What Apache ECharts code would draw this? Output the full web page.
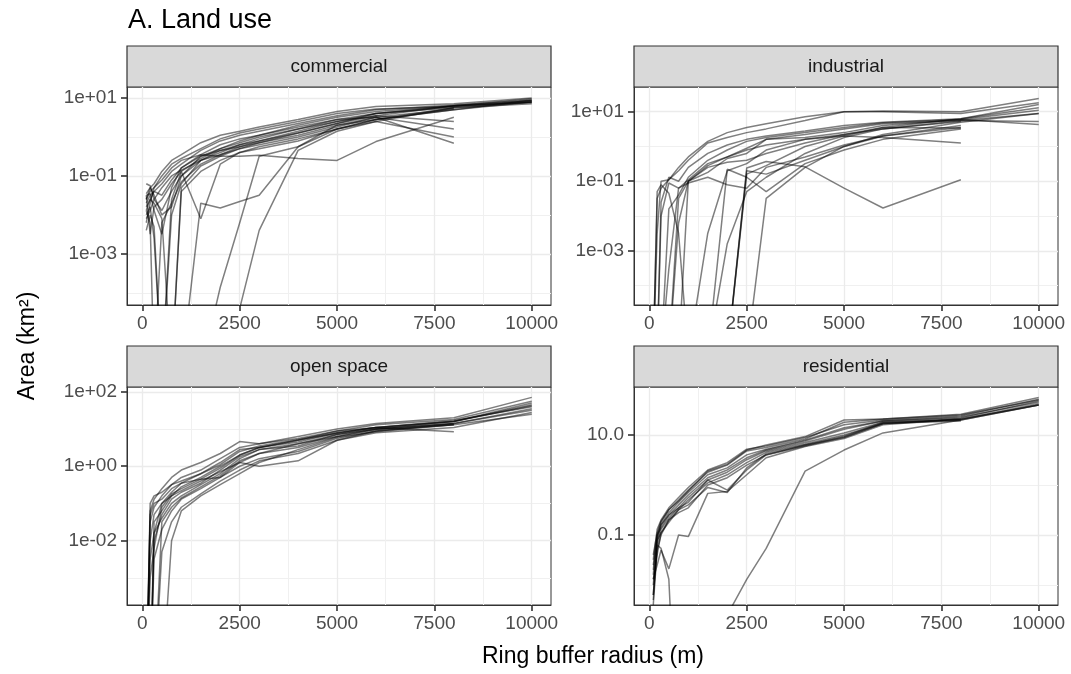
<!doctype html>
<html>
<head>
<meta charset="UTF-8">
<title>A. Land use</title>
<script src="https://cdn.jsdelivr.net/npm/echarts@6/dist/echarts.min.js"></script>
<style>
	html, body { margin: 0; padding: 0; background: #ffffff; }
	#chart { width: 1071px; height: 674px; }
</style>
</head>
<body>
<div id="chart"></div>
<script type="text/javascript">
// ring buffer radii (m)
var radii = [100, 200, 300, 500, 750, 1000, 1500, 2000, 2500, 3000, 4000, 5000, 6000, 8000, 10000];
var xBreaks = [0, 2500, 5000, 7500, 10000];
var xMinorBreaks = [1250, 3750, 6250, 8750];

var panelNames = ['commercial', 'industrial', 'open space', 'residential'];

// y breaks (km2) and their labels
var commercialBreaks = [10, 0.1, 0.001];
var commercialLabels = ['1e+01', '1e-01', '1e-03'];
var commercialMinor = [1, 0.01, 0.0001];
var industrialBreaks = [10, 0.1, 0.001];
var industrialLabels = ['1e+01', '1e-01', '1e-03'];
var industrialMinor = [1, 0.01, 0.0001];
var openBreaks = [100, 1, 0.01];
var openLabels = ['1e+02', '1e+00', '1e-02'];
var openMinor = [10, 0.1, 0.001];
var residentialBreaks = [10, 0.1];
var residentialLabels = ['10.0', '0.1'];
var residentialMinor = [1, 0.01];

// area (km2) per city, one row per line, one value per radius (null = no ring)
var commercial = [
	[0.025, 0.05, 0.063, 0.13, 0.25, 0.35, 0.71, 1.1, 1.4, 1.8, 2.8, 4.5, 6.0, 7.1, 10],
	[0.013, 0.025, 0.04, 0.063, 0.13, 0.2, 0.45, 0.79, 1.1, 1.4, 2.2, 3.5, 5.0, 6.6, 8.9],
	[0.032, 0.035, 0.013, 0.0032, 0.05, 0.16, 0.35, 0.63, 0.89, 1.1, 2.0, 3.2, 4.5, 6.3, 8.3],
	[0.0063, 0.02, 0.05, 0.1, 0.2, 0.28, 0.5, 0.89, 1.26, 1.6, 2.5, 4.0, 5.2, 6.0, 7.9],
	[0.004, 0.01, 0.005, 1e-6, 0.01, 0.063, 0.25, 0.45, 0.63, 0.89, 1.6, 2.8, 4.0, 5.6, null],
	[0.016, 0.025, 0.02, 0.008, 1e-6, 0.05, 0.18, 0.32, 0.5, 0.71, 1.26, 2.2, 3.5, 2.5, null],
	[0.035, 0.05, 0.032, 0.01, 0.016, 0.1, 0.32, 0.5, 0.79, 1.1, 1.8, 2.8, 3.2, 1.6, null],
	[0.01, 0.016, 0.0025, 1e-6, 1e-6, 0.04, 0.13, 0.25, 0.4, 0.5, 0.79, 1.6, 2.5, 1.0, null],
	[0.02, 0.032, 0.04, 0.032, 0.079, 0.16, 0.32, 0.45, 0.56, 0.71, 1.1, 2.0, 3.2, 0.69, null],
	[1e-6, 1e-6, 1e-6, 1e-6, 1e-6, 1e-6, 0.02, 0.015, 0.022, 0.032, 0.56, 2.0, 2.8, 5.0, 7.9],
	[1e-6, 1e-6, 1e-6, 1e-6, 1e-6, 1e-6, 1e-6, 0.00014, 0.0063, 0.32, 0.56, 1.6, 2.8, 5.0, 8.9],
	[1e-6, 1e-6, 1e-6, 1e-6, 1e-6, 1e-6, 1e-6, 1e-6, 4e-5, 0.004, 0.45, 1.4, 2.5, 5.6, 7.1],
	[0.025, 0.04, 0.05, 0.079, 0.16, 0.25, 0.35, 0.32, 0.32, 0.34, 0.28, 0.25, 0.76, 3.2, null],
	[0.063, 0.056, 0.025, 0.013, 0.04, 0.1, 0.25, 0.4, 0.63, 0.79, 1.4, 2.5, 4.0, 6.3, 9.5],
	[0.013, 0.0063, 1e-6, 0.0063, 0.02, 0.071, 0.2, 0.35, 0.56, 0.79, 1.26, 2.2, 4.0, 6.0, 8.5],
	[0.032, 0.0032, 0.016, 0.025, 0.063, 0.13, 0.28, 0.5, 0.71, 1.0, 1.6, 2.5, 3.5, 6.3, 7.6],
	[0.008, 0.013, 0.025, 0.05, 0.1, 0.14, 0.25, 0.35, 0.5, 0.63, 1.0, 1.8, 3.2, 5.2, null],
	[1e-6, 1e-6, 1e-6, 1e-6, 0.025, 0.13, 0.008, 0.2, 0.4, 0.56, 0.89, 1.6, 2.8, 5.6, 7.9]
];

var industrial = [
	[1e-6, 0.0032, 0.1, 0.11, 0.25, 0.5, 1.4, 2.5, 3.5, 4.5, 7.1, 10, 10.5, 10, 24],
	[1e-6, 0.032, 0.063, 0.11, 0.2, 0.4, 1.26, 1.8, 2.5, 3.2, 5.6, 10, 10, 8.9, 18],
	[1e-6, 1e-6, 0.025, 0.13, 0.1, 0.25, 0.63, 1.1, 1.6, 2.0, 2.8, 4.0, 5.0, 6.3, 16],
	[1e-6, 1e-6, 1e-6, 0.016, 0.04, 0.13, 0.4, 0.79, 1.4, 1.8, 2.5, 3.5, 4.8, 6.0, 11],
	[1e-6, 1e-6, 1e-6, 1e-6, 0.032, 0.1, 0.28, 0.5, 0.89, 1.6, 2.2, 3.2, 4.5, 5.6, 5.2],
	[1e-6, 1e-6, 1e-6, 1e-6, 1e-6, 0.1, 0.18, 0.45, 0.63, 1.6, 1.8, 2.5, 4.0, 6.0, 4.3],
	[1e-6, 1e-6, 1e-6, 0.0003, 0.063, 0.089, 0.13, 0.079, 0.063, 0.25, 0.5, 1.1, 2.0, 3.5, null],
	[1e-6, 1e-6, 1e-6, 1e-6, 1e-6, 1e-6, 1e-6, 0.22, 0.13, 0.05, 0.32, 0.79, 1.6, 3.2, null],
	[1e-6, 1e-6, 1e-6, 1e-6, 1e-6, 1e-6, 1e-6, 1e-6, 0.24, 0.37, 0.26, 0.063, 0.017, 0.11, null],
	[1e-6, 1e-6, 1e-6, 1e-6, 1e-6, 1e-6, 0.0032, 0.2, 0.32, 0.79, 1.6, 2.2, 3.2, 5.2, null],
	[1e-6, 1e-6, 1e-6, 1e-6, 1e-6, 1e-6, 1e-6, 1e-6, 0.16, 0.28, 1.0, 2.0, 3.5, 6.3, 13],
	[1e-6, 1e-6, 1e-6, 1e-6, 1e-6, 1e-6, 1e-6, 0.0016, 0.05, 0.13, 0.63, 1.8, 3.2, 5.6, 8.9],
	[1e-6, 1e-6, 0.01, 0.089, 0.063, 0.11, 0.32, 0.5, 0.79, 1.1, 1.6, 2.0, 1.8, 1.26, null],
	[1e-6, 1e-6, 1e-6, 1e-6, 0.0063, 0.1, 0.25, 0.35, 0.4, 0.63, 1.26, 2.2, 3.5, 3.4, null],
	[1e-6, 0.05, 0.079, 0.045, 0.0032, 1e-6, 1e-6, 1e-6, 1e-6, 0.032, 0.25, 1.0, 2.0, 4.0, null],
	[1e-6, 1e-6, 1e-6, 1e-6, 1e-6, 1e-6, 1e-6, 1e-6, 0.2, 0.16, 0.4, 1.0, 2.2, 5.0, 8.9]
];

var openSpace = [
	[1e-6, 0.063, 0.13, 0.25, 0.5, 0.79, 1.26, 2.2, 4.6, 4.0, 6.3, 10, 14, 20, 71],
	[1e-6, 0.032, 0.079, 0.16, 0.32, 0.5, 0.79, 1.6, 3.2, 4.0, 5.6, 8.9, 13, 18, 56],
	[1e-6, 0.01, 0.05, 0.1, 0.2, 0.35, 0.63, 1.1, 2.5, 3.5, 5.2, 7.9, 11, 16, 50],
	[1e-6, 1e-6, 0.032, 0.063, 0.16, 0.28, 0.5, 1.0, 2.0, 3.2, 4.5, 7.9, 11, 16, 42],
	[1e-6, 1e-6, 0.01, 0.05, 0.13, 0.2, 0.35, 0.79, 1.8, 2.8, 3.5, 7.1, 10, 14, 35],
	[1e-6, 1e-6, 1e-6, 0.032, 0.079, 0.14, 0.28, 0.56, 1.4, 2.2, 3.2, 6.3, 9.5, 13, null],
	[1e-6, 0.0032, 0.016, 0.1, 0.16, 0.22, 0.4, 0.71, 1.26, 1.0, 1.4, 5.0, 8.9, 14, 32],
	[1e-6, 1e-6, 0.0032, 0.02, 0.063, 0.13, 0.25, 0.5, 1.0, 1.6, 2.5, 5.6, 8.9, 13, null],
	[1e-6, 1e-6, 1e-6, 0.005, 0.032, 0.079, 0.18, 0.4, 0.79, 1.4, 2.2, 5.0, 7.9, 11, 28],
	[1e-6, 0.05, 0.1, 0.13, 0.25, 0.35, 0.45, 0.5, 1.26, 2.2, 4.0, 6.3, 10, 14, null],
	[1e-6, 1e-6, 1e-6, 1e-6, 0.01, 0.063, 0.16, 0.32, 0.63, 1.26, 2.8, 6.0, 8.5, 13, 25],
	[1e-6, 0.1, 0.16, 0.2, 0.32, 0.4, 0.63, 1.26, 2.8, 3.2, 5.0, 8.9, 11, 8.5, null],
	[1e-6, 1e-6, 0.016, 0.04, 0.1, 0.16, 0.32, 0.63, 1.6, 2.8, 4.0, 7.1, 10, 16, 45],
	[1e-6, 0.001, 0.0063, 0.079, 0.18, 0.25, 0.45, 0.89, 2.0, 3.2, 5.0, 7.6, 11, 17, 40]
];

var residential = [
	[0.032, 0.13, 0.2, 0.35, 0.56, 0.89, 2.0, 2.8, 5.2, 6.0, 8.9, 16, 20, 24, 52],
	[0.025, 0.1, 0.18, 0.32, 0.5, 0.79, 1.8, 2.5, 4.8, 5.6, 8.3, 18, 21, 25, 50],
	[0.01, 0.079, 0.16, 0.28, 0.45, 0.71, 1.6, 2.2, 4.0, 5.2, 7.9, 14, 19, 22, 48],
	[0.016, 0.1, 0.14, 0.25, 0.4, 0.63, 1.4, 2.0, 3.5, 5.0, 7.6, 13, 19, 23, 45],
	[0.005, 0.063, 0.13, 0.22, 0.35, 0.56, 1.26, 1.8, 3.2, 4.8, 7.1, 11, 18, 21, 42],
	[0.0063, 0.079, 0.11, 0.2, 0.32, 0.5, 1.1, 1.6, 2.8, 4.5, 6.6, 10, 17, 20, 40],
	[0.02, 0.089, 0.16, 0.25, 0.35, 0.45, 1.26, 0.79, 2.0, 4.0, 6.3, 8.9, 17, 21, null],
	[0.013, 0.04, 0.11, 0.18, 0.32, 0.4, 0.89, 0.71, 2.2, 4.2, 6.3, 9.5, 18, 20, null],
	[0.013, 0.025, 0.05, 0.021, 0.1, 0.093, 0.68, 0.74, 1.6, 3.5, 5.9, 8.5, 16, 21, 40],
	[0.0063, 0.063, 0.054, 0.013, 1e-6, 1e-6, 1e-6, 0.0025, 0.013, 0.054, 1.9, 5.0, 11, 20, 40],
	[0.04, 0.11, 0.19, 0.32, 0.48, 0.76, 1.9, 2.6, 5.0, 6.3, 9.3, 20, 21, 26, 56],
	[0.004, 0.05, 0.1, 0.2, 0.28, 0.35, 1.0, 1.4, 2.5, 4.0, 6.0, 9.1, 17, 19, null]
];

var FONT = '"Liberation Sans", Arial, sans-serif';

// panel layout: log10 range of the y axis and position of each facet
var panels = [
	{ lines: commercial, breaks: commercialBreaks, labels: commercialLabels, minor: commercialMinor, ymin: -4.31, ymax: 1.28, left: 127, top: 87 },
	{ lines: industrial, breaks: industrialBreaks, labels: industrialLabels, minor: industrialMinor, ymin: -4.56, ymax: 1.71, left: 634, top: 87 },
	{ lines: openSpace, breaks: openBreaks, labels: openLabels, minor: openMinor, ymin: -3.73, ymax: 2.13, left: 127, top: 387 },
	{ lines: residential, breaks: residentialBreaks, labels: residentialLabels, minor: residentialMinor, ymin: -2.40, ymax: 1.96, left: 634, top: 387 }
];
var PW = 424, PH = 218, STRIP = 41;

function log10List(arr) {
	return arr.map(function(v) { return Math.log10(v); });
}

var grids = [], xAxes = [], yAxes = [], series = [], graphics = [];

panels.forEach(function(p, i) {
	grids.push({
		left: p.left, top: p.top, width: PW, height: PH,
		show: true, backgroundColor: '#ffffff', borderColor: '#333333', borderWidth: 1
	});

	// major x axis
	xAxes.push({
		type: 'value', gridIndex: i, min: -395, max: 10495, position: 'bottom',
		axisLine: { show: true, onZero: false, lineStyle: { color: '#333333', width: 1 } },
		axisTick: { show: true, inside: false, length: 6, customValues: xBreaks, lineStyle: { color: '#333333', width: 1.6 } },
		axisLabel: { customValues: xBreaks, fontSize: 19, color: '#4D4D4D', margin: 9, fontFamily: FONT,
			formatter: function(v) { return String(Math.round(v)); } },
		splitLine: { show: true, lineStyle: { color: '#EBEBEB', width: 1.3 } }
	});
	// minor x grid
	xAxes.push({
		type: 'value', gridIndex: i, min: -395, max: 10495, position: 'top',
		axisLine: { show: false, onZero: false },
		axisTick: { show: false, customValues: xMinorBreaks },
		axisLabel: { show: false },
		splitLine: { show: true, lineStyle: { color: '#F0F0F0', width: 1 } }
	});

	var logBreaks = log10List(p.breaks);
	var labels = p.labels;
	yAxes.push({
		type: 'value', gridIndex: i, min: p.ymin, max: p.ymax, position: 'left',
		axisLine: { show: true, onZero: false, lineStyle: { color: '#333333', width: 1 } },
		axisTick: { show: true, inside: false, length: 6, customValues: logBreaks, lineStyle: { color: '#333333', width: 1.6 } },
		axisLabel: { customValues: logBreaks, fontSize: 19, color: '#4D4D4D', margin: 10, fontFamily: FONT,
			formatter: function(v) {
				for (var k = 0; k < logBreaks.length; k++) {
					if (Math.abs(v - logBreaks[k]) < 1e-6) return labels[k];
				}
				return '';
			} },
		splitLine: { show: true, lineStyle: { color: '#EBEBEB', width: 1.3 } }
	});
	yAxes.push({
		type: 'value', gridIndex: i, min: p.ymin, max: p.ymax, position: 'right',
		axisLine: { show: false, onZero: false },
		axisTick: { show: false, customValues: log10List(p.minor) },
		axisLabel: { show: false },
		splitLine: { show: true, lineStyle: { color: '#F0F0F0', width: 1 } }
	});

	p.lines.forEach(function(vals) {
		var data = [];
		for (var k = 0; k < radii.length; k++) {
			if (vals[k] != null) data.push([radii[k], Math.log10(vals[k])]);
		}
		series.push({
			type: 'line', xAxisIndex: i * 2, yAxisIndex: i * 2, data: data,
			symbol: 'none', showSymbol: false, silent: true, clip: true,
			lineStyle: { color: '#000000', opacity: 0.5, width: 1.5 }
		});
	});

	// facet strip
	graphics.push({
		type: 'rect', shape: { x: p.left, y: p.top - STRIP, width: PW, height: STRIP },
		style: { fill: '#D9D9D9', stroke: '#333333', lineWidth: 1.2 }
	});
	graphics.push({
		type: 'text', x: p.left + PW / 2, y: p.top - STRIP / 2,
		style: { text: panelNames[i], fontSize: 19, fontFamily: FONT, fill: '#1A1A1A', align: 'center', verticalAlign: 'middle' }
	});
});

graphics.push({
	type: 'text', x: 128, y: 21,
	style: { text: 'A. Land use', fontSize: 27, fontFamily: FONT, fill: '#000000', align: 'left', verticalAlign: 'middle' }
});
graphics.push({
	type: 'text', x: 593, y: 657,
	style: { text: 'Ring buffer radius (m)', fontSize: 23, fontFamily: FONT, fill: '#000000', align: 'center', verticalAlign: 'middle' }
});
graphics.push({
	type: 'text', x: 28, y: 346, rotation: Math.PI / 2,
	style: { text: 'Area (km²)', fontSize: 23, fontFamily: FONT, fill: '#000000', align: 'center', verticalAlign: 'middle' }
});

var chart = echarts.init(document.getElementById('chart'), null, { renderer: 'canvas' });
chart.setOption({
	animation: false,
	backgroundColor: '#ffffff',
	textStyle: { fontFamily: FONT },
	grid: grids,
	xAxis: xAxes,
	yAxis: yAxes,
	series: series,
	graphic: graphics
});
</script>
</body>
</html>
